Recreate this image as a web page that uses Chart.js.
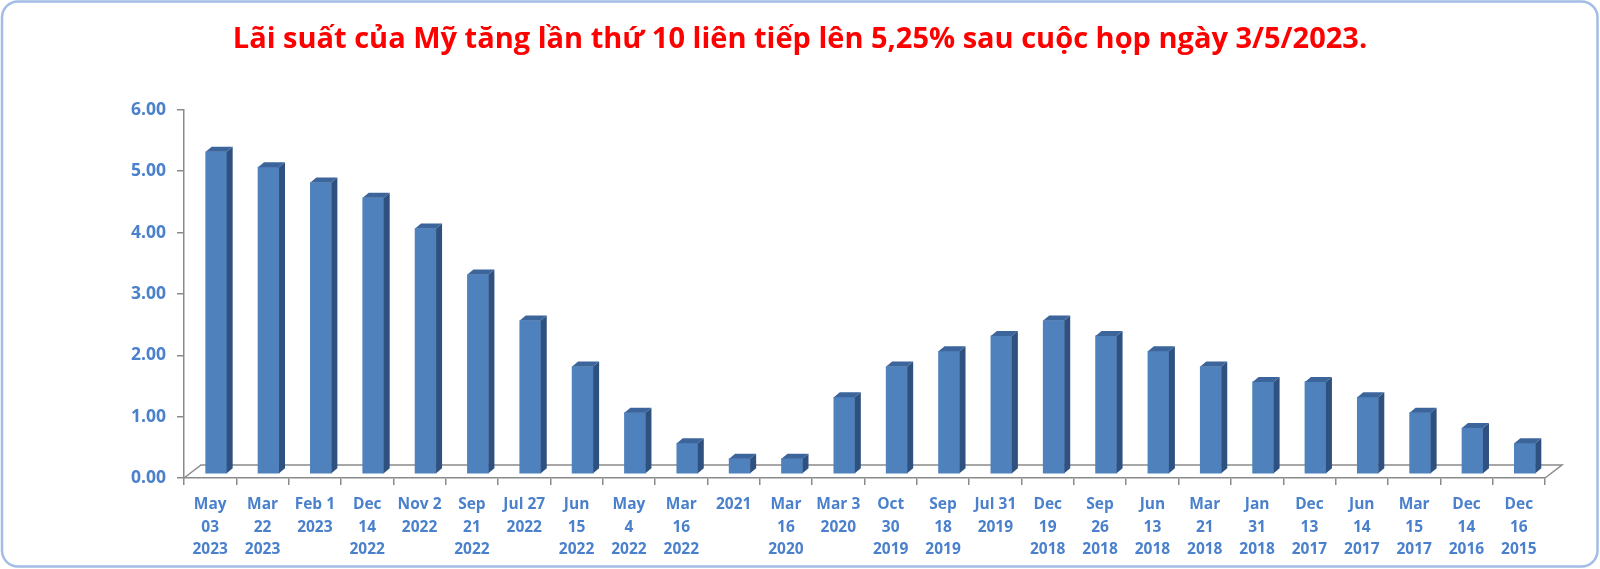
<!DOCTYPE html>
<html>
<head>
<meta charset="utf-8">
<script src="https://cdn.jsdelivr.net/npm/chart.js@4/dist/chart.umd.min.js"></script>
<style>
    html, body { margin: 0; padding: 0; background: #ffffff; }
    #wrap { width: 1600px; height: 569px; position: relative; }
</style>
</head>
<body>
<div id="wrap"><canvas id="rate-chart"></canvas></div>
<script>
const TITLE = 'Lãi suất của Mỹ tăng lần thứ 10 liên tiếp lên 5,25% sau cuộc họp ngày 3/5/2023.';

// Meeting dates (newest first), one array per label line
const dateLabels = [
    ['May', '03', '2023'], ['Mar', '22', '2023'], ['Feb 1', '2023'], ['Dec', '14', '2022'],
    ['Nov 2', '2022'], ['Sep', '21', '2022'], ['Jul 27', '2022'], ['Jun', '15', '2022'],
    ['May', '4', '2022'], ['Mar', '16', '2022'], ['2021'], ['Mar', '16', '2020'],
    ['Mar 3', '2020'], ['Oct', '30', '2019'], ['Sep', '18', '2019'], ['Jul 31', '2019'],
    ['Dec', '19', '2018'], ['Sep', '26', '2018'], ['Jun', '13', '2018'], ['Mar', '21', '2018'],
    ['Jan', '31', '2018'], ['Dec', '13', '2017'], ['Jun', '14', '2017'], ['Mar', '15', '2017'],
    ['Dec', '14', '2016'], ['Dec', '16', '2015'],
];

// Upper bound of the fed funds rate (%)
const rateValues = [
    5.25, 5.00, 4.75, 4.50, 4.00, 3.25, 2.50, 1.75, 1.00, 0.50, 0.25, 0.25, 1.25,
    1.75, 2.00, 2.25, 2.50, 2.25, 2.00, 1.75, 1.50, 1.50, 1.25, 1.00, 0.75, 0.50,
];

const yMin = 0;
const yMax = 6;
const yStep = 1;

const LABEL_BLUE = '#4a80cc';
const AXIS_GREY = '#8a8a8a';
const DEPTH_X = 6;
const DEPTH_Y = 5;
const FLOOR_X = 17;
const FLOOR_Y = 13;

// Rounded frame around the whole picture
const framePlugin = {
    id: 'frame',
    beforeDraw(chart) {
        const ctx = chart.ctx;
        ctx.save();
        ctx.fillStyle = '#ffffff';
        ctx.fillRect(0, 0, chart.width, chart.height);
        ctx.beginPath();
        ctx.roundRect(2, 1.5, chart.width - 4.5, chart.height - 4, 16);
        ctx.lineWidth = 2.5;
        ctx.strokeStyle = '#a4bce6';
        ctx.stroke();
        ctx.restore();
    },
};

// Fake Excel-style 3D: floor, shifted bars, side and top faces
const depthPlugin = {
    id: 'depth',
    beforeDatasetsDraw(chart) {
        const { ctx, chartArea } = chart;
        const l = chartArea.left, r = chartArea.right, b = chartArea.bottom;
        ctx.save();
        ctx.beginPath();
        ctx.moveTo(l, b);
        ctx.lineTo(l + FLOOR_X, b - FLOOR_Y);
        ctx.lineTo(r + FLOOR_X, b - FLOOR_Y);
        ctx.lineTo(r, b);
        ctx.lineWidth = 1.5;
        ctx.strokeStyle = AXIS_GREY;
        ctx.stroke();
        ctx.restore();

        ctx.save();
        ctx.translate(6, -4);
    },
    afterDatasetsDraw(chart) {
        const ctx = chart.ctx;
        chart.getDatasetMeta(0).data.forEach((bar) => {
            const x0 = bar.x - bar.width / 2;
            const x1 = bar.x + bar.width / 2;
            const top = bar.y;
            const base = bar.base;

            ctx.beginPath();
            ctx.moveTo(x1, top);
            ctx.lineTo(x1 + DEPTH_X, top - DEPTH_Y);
            ctx.lineTo(x1 + DEPTH_X, base - DEPTH_Y);
            ctx.lineTo(x1, base);
            ctx.closePath();
            ctx.fillStyle = '#2f5180';
            ctx.fill();

            ctx.beginPath();
            ctx.moveTo(x0, top);
            ctx.lineTo(x0 + DEPTH_X, top - DEPTH_Y);
            ctx.lineTo(x1 + DEPTH_X, top - DEPTH_Y);
            ctx.lineTo(x1, top);
            ctx.closePath();
            ctx.fillStyle = '#3c659c';
            ctx.fill();
        });
        ctx.restore();
    },
};

const ctx = document.getElementById('rate-chart').getContext('2d');
const rateChart = new Chart(ctx, {
    type: 'bar',
    data: {
        labels: dateLabels,
        datasets: [{
            label: 'Lãi suất',
            data: rateValues,
            backgroundColor: '#4f81bd',
            borderWidth: 0,
            barThickness: 21,
        }],
    },
    options: {
        responsive: true,
        maintainAspectRatio: false,
        animation: false,
        layout: {
            // symmetric so the title stays centred on the page
            padding: { left: 55, right: 55, top: 0, bottom: 0 },
        },
        plugins: {
            legend: { display: false },
            tooltip: { enabled: false },
            title: {
                display: true,
                text: TITLE,
                color: '#ff0000',
                font: { family: '"Open Sans", sans-serif', size: 29, weight: 'bold', lineHeight: 1.2 },
                padding: { top: 22, bottom: 53 },
            },
        },
        scales: {
            x: {
                grid: {
                    offset: true,
                    drawOnChartArea: false,
                    tickLength: 7,
                    color: AXIS_GREY,
                    lineWidth: 1.5,
                },
                border: { display: true, color: AXIS_GREY, width: 1.5 },
                ticks: {
                    autoSkip: false,
                    maxRotation: 0,
                    padding: 8,
                    color: LABEL_BLUE,
                    font: { family: '"Open Sans", sans-serif', size: 15.5, weight: 'bold', lineHeight: 1.47 },
                },
                afterFit(scale) { scale.height = 91; },
            },
            y: {
                min: yMin,
                max: yMax,
                grid: {
                    drawOnChartArea: false,
                    tickLength: 7,
                    color: AXIS_GREY,
                    lineWidth: 1.5,
                },
                border: { display: true, color: AXIS_GREY, width: 1.5 },
                ticks: {
                    stepSize: yStep,
                    padding: 11,
                    color: LABEL_BLUE,
                    font: { family: '"Open Sans", sans-serif', size: 17.5, weight: 'bold' },
                    callback: (v) => Number(v).toFixed(2),
                },
                afterFit(scale) { scale.width = 129; },
            },
        },
    },
    plugins: [framePlugin, depthPlugin],
});
</script>
</body>
</html>
